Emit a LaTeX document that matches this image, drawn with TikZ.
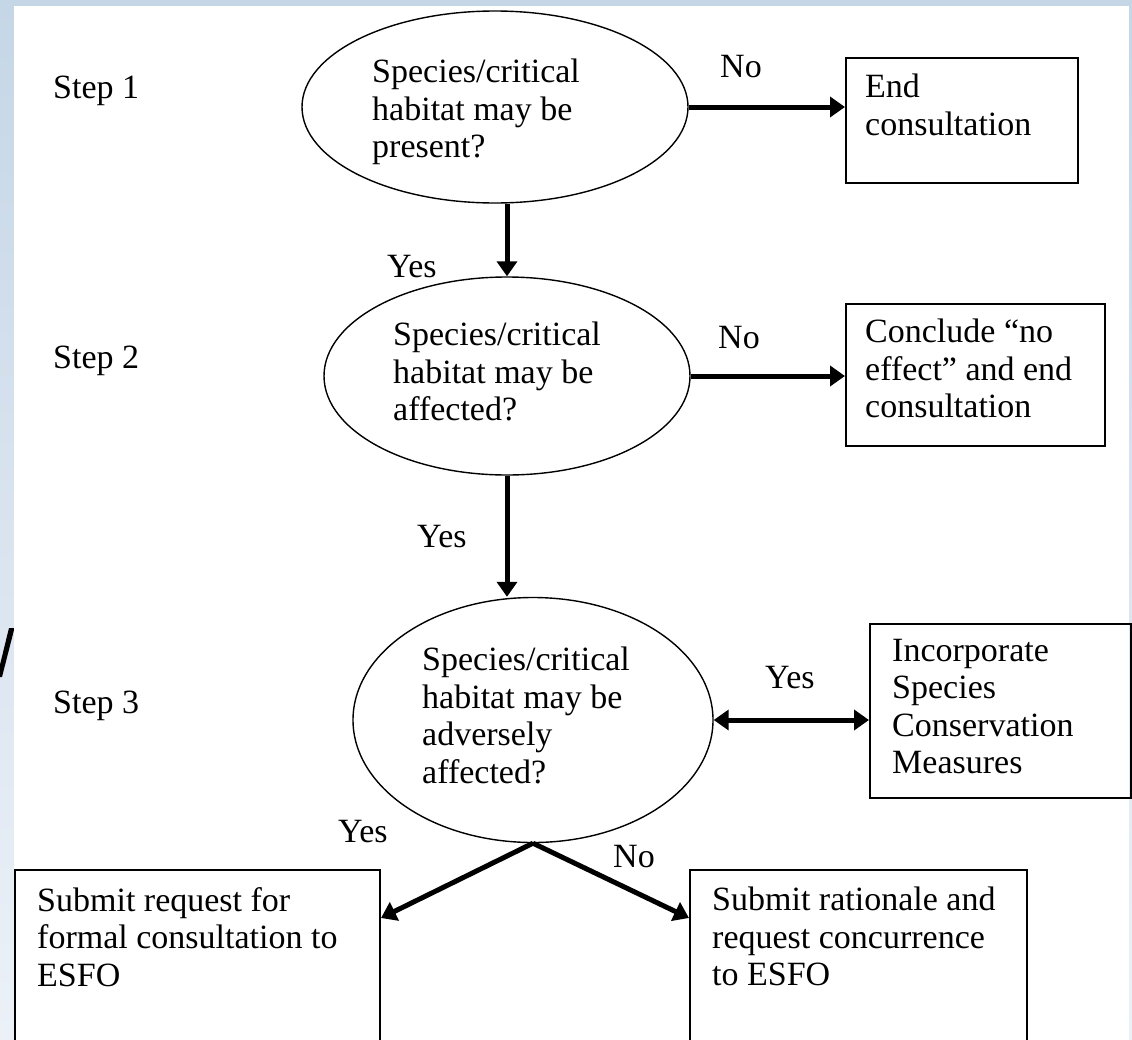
\documentclass[tikz,border=0pt]{standalone}
\usepackage{fontspec}
\setmainfont{Liberation Serif}
\usetikzlibrary{shapes.geometric,arrows.meta}
\definecolor{bgtop}{RGB}{197,214,230}
\definecolor{bgbot}{RGB}{236,241,248}
\tikzset{
  txt/.style={font=\fontsize{34}{37.5}\selectfont, inner sep=0pt, align=left, text=black},
  ell/.style={draw, ellipse, line width=1.4pt, inner sep=0pt},
  boxn/.style={draw, rectangle, line width=2pt, inner sep=0pt, anchor=north west},
  arr/.style={line width=5pt, -{Triangle[length=15pt,width=20pt]}},
  darr/.style={line width=5pt, {Triangle[length=15pt,width=20pt]}-{Triangle[length=15pt,width=20pt]}},
}
\begin{document}
\begin{tikzpicture}[x=1pt,y=-1pt]
\useasboundingbox (0,0) rectangle (1132,1039);
\clip (0,0) rectangle (1132,1039);
% background
\shade[top color=bgtop, bottom color=bgbot] (0,0) rectangle (1132,1039);
\fill[black] (9,628) -- (14.5,628) -- (2,677) -- (-3,677) -- cycle;
\fill[white] (14,6) rectangle (1129,1045);

% step labels
\node[txt, anchor=base west] (s1) at (53,98) {Step 1};
\node[txt, anchor=base west] (s2) at (53,368) {Step 2};
\node[txt, anchor=base west] (s3) at (53,713) {Step 3};

% decision ellipses
\node[ell, minimum width=386pt, minimum height=192pt] (e1) at (495,107) {};
\node[ell, minimum width=366pt, minimum height=198pt] (e2) at (507,376) {};
\node[ell, minimum width=360pt, minimum height=245pt] (e3) at (533,720) {};
\node[txt, anchor=north west] (e1t) at (372,59) {Species/critical\\habitat may be\\present?};
\node[txt, anchor=north west] (e2t) at (393,322) {Species/critical\\habitat may be\\affected?};
\node[txt, anchor=north west] (e3t) at (422,647) {Species/critical\\habitat may be\\adversely\\affected?};

% boxes
\node[boxn, minimum width=232pt, minimum height=125pt] (b1) at (845,57) {};
\node[boxn, minimum width=259pt, minimum height=142pt] (b2) at (845,303) {};
\node[boxn, minimum width=261pt, minimum height=174pt] (b3) at (869,623) {};
\node[boxn, minimum width=365pt, minimum height=200pt] (b4) at (14,869) {};
\node[boxn, minimum width=337pt, minimum height=200pt] (b5) at (689,869) {};
\node[txt, anchor=north west] (b1t) at (865,74) {End\\consultation};
\node[txt, anchor=north west] (b2t) at (865,319) {Conclude “no\\effect” and end\\consultation};
\node[txt, anchor=north west] (b3t) at (892,639) {Incorporate\\Species\\Conservation\\Measures};
\node[txt, anchor=north west] (b4t) at (37,887) {Submit request for\\formal consultation to\\ESFO};
\node[txt, anchor=north west] (b5t) at (712,887) {Submit rationale and\\request concurrence\\to ESFO};

% connector labels
\node[txt, anchor=base west] (l1) at (720,77) {No};
\node[txt, anchor=base west] (l2) at (387,277) {Yes};
\node[txt, anchor=base west] (l3) at (718,348) {No};
\node[txt, anchor=base west] (l4) at (417,547) {Yes};
\node[txt, anchor=base west] (l5) at (765,688) {Yes};
\node[txt, anchor=base west] (l6) at (338,842) {Yes};
\node[txt, anchor=base west] (l7) at (613,867) {No};

% connectors
\draw[arr] (e1.east) -- (e1.east -| b1.west);
\draw[arr] (e2.north |- e1.south) -- (e2.north);
\draw[arr] (e2.east) -- (e2.east -| b2.west);
\draw[arr] (e2.south) -- (e2.south |- e3.north);
\draw[darr] (e3.east) -- (e3.east -| b3.west);
\path (b4.north east) ++(0,49) coordinate (t4);
\path (b5.north west) ++(0,49) coordinate (t5);
\draw[arr] (e3.south) -- (t4);
\draw[arr] (e3.south) -- (t5);
\end{tikzpicture}
\end{document}
